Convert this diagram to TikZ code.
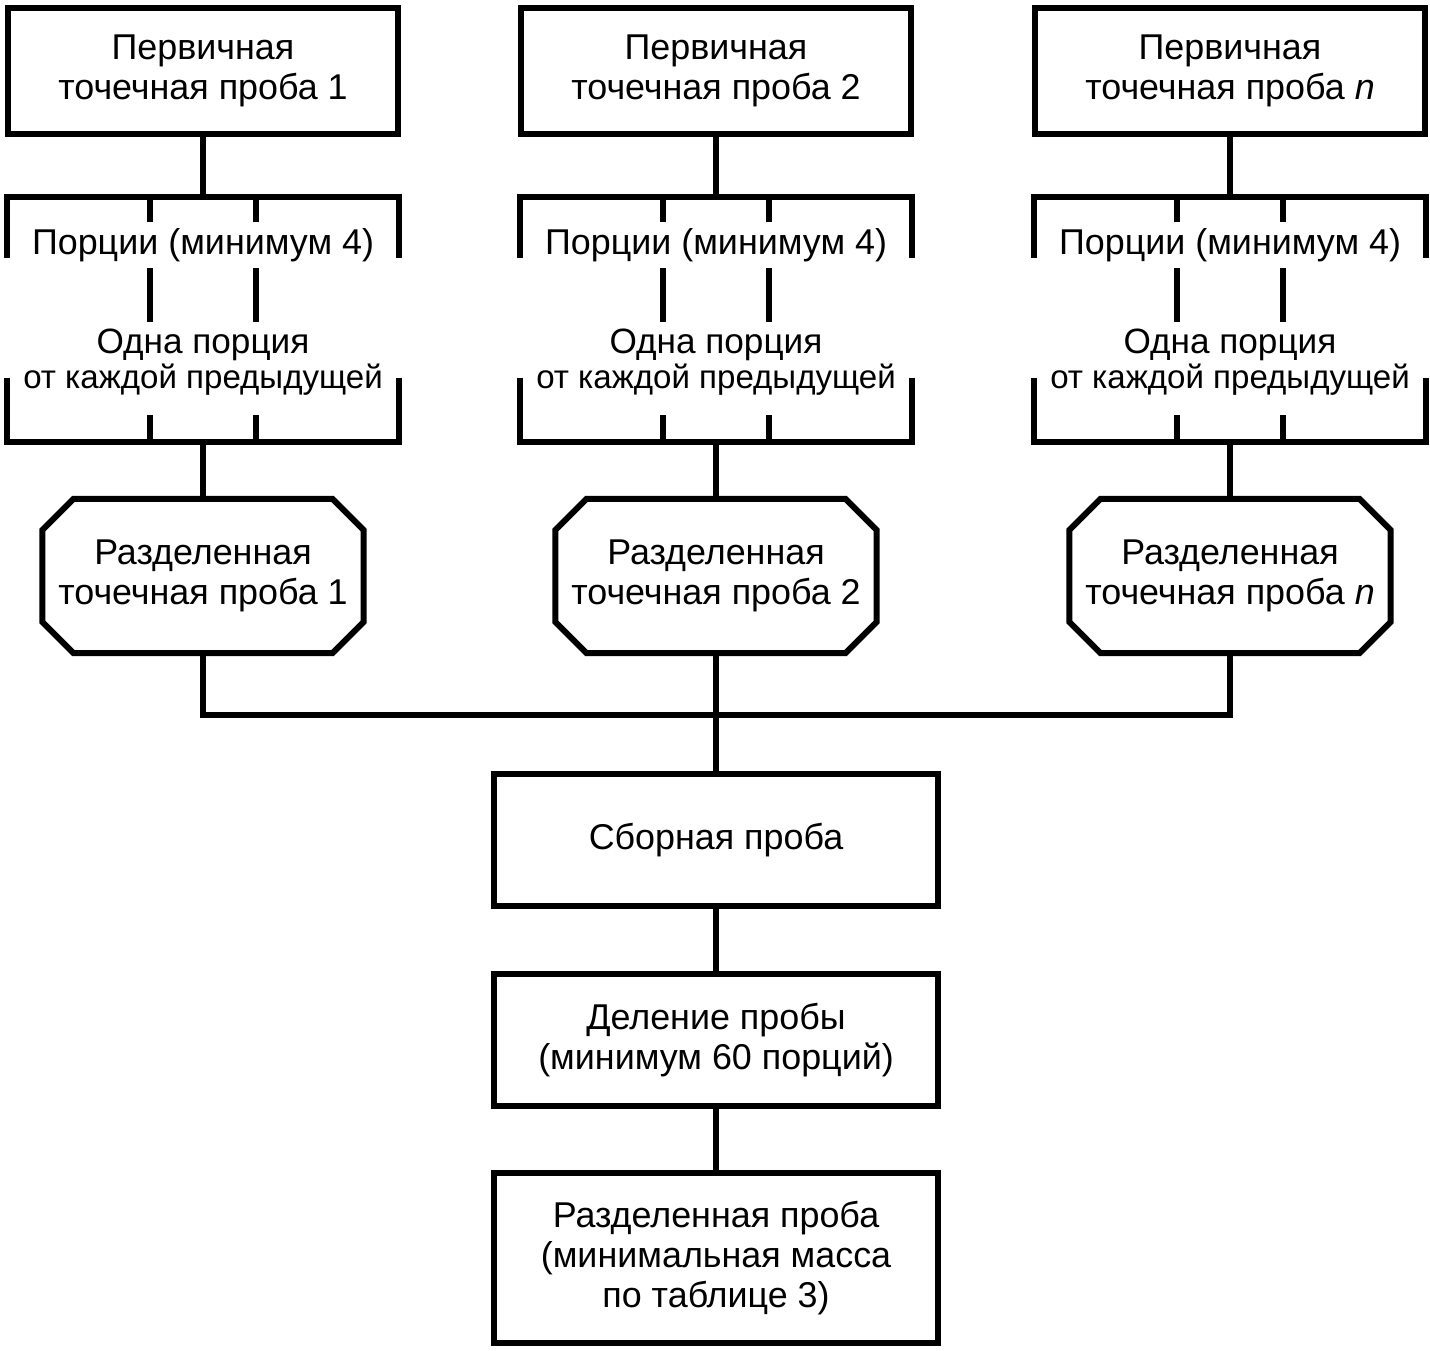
\documentclass[tikz,border=0pt]{standalone}
\usepackage{fontspec}
\setmainfont{Liberation Sans}

\begin{document}
\begin{tikzpicture}[x=0.01cm, y=-0.01cm, line width=1.7pt]
\tikzset{font=\fontsize{10.2}{11.4}\selectfont}
\tikzset{every node/.style={align=center, inner sep=0pt}}
\tikzset{box/.style={draw, rectangle, minimum width=3.9cm}}
\tikzset{wide box/.style={draw, rectangle, minimum width=4.44cm}}
\tikzset{cut box/.style={rectangle, minimum width=3.15cm, minimum height=1.48cm}}
\useasboundingbox (0,0) rectangle (1430,1350);

% three columns of primary samples
\foreach \c/\k/\lab in {203/1/1, 716/2/2, 1230/n/\textit{n}} {
  \node[box, minimum height=1.26cm] (prim\k) at (\c,71) {Первичная\\точечная проба \lab};
  \coordinate (top\k) at (\c,197);
  \coordinate (bot\k) at (\c,442);
  \node (parts\k) at (\c,245) {Порции (минимум 4)};
  \node[font=\fontsize{10}{10}\selectfont] (one\k) at (\c,362) {Одна порция\\\fontsize{9.4}{10}\selectfont от каждой предыдущей};
  \node[cut box] (split\k) at (\c,576) {Разделенная\\точечная проба \lab};
  \draw ([xshift=0.31cm]split\k.north west) -- ([xshift=-0.31cm]split\k.north east)
    -- ([yshift=-0.31cm]split\k.north east) -- ([yshift=0.31cm]split\k.south east)
    -- ([xshift=-0.31cm]split\k.south east) -- ([xshift=0.31cm]split\k.south west)
    -- ([yshift=0.31cm]split\k.south west) -- ([yshift=-0.31cm]split\k.north west) -- cycle;
  \draw (prim\k) -- (top\k);
  \draw (\c-196,258) -- (\c-196,197) -- (\c+196,197) -- (\c+196,258);
  \draw (\c-53,197) -- (\c-53,222) (\c+53,197) -- (\c+53,222);
  \draw (\c-53,268) -- (\c-53,322) (\c+53,268) -- (\c+53,322);
  \draw (\c-196,378) -- (\c-196,442) -- (\c+196,442) -- (\c+196,378);
  \draw (\c-53,415) -- (\c-53,442) (\c+53,415) -- (\c+53,442);
  \draw (bot\k) -- (split\k);
}

% joining and final steps
\coordinate (join) at (716,715);
\node[wide box, minimum height=1.32cm] (pool) at (716,840) {Сборная проба};
\node[wide box, minimum height=1.31cm] (divide) at (716,1040) {Деление пробы\\(минимум 60 порций)};
\node[wide box, minimum height=1.70cm] (final) at (716,1258) {Разделенная проба\\(минимальная масса\\по таблице 3)};
\draw (split1) |- (join) -| (splitn);
\draw (split2) -- (join) -- (pool);
\draw (pool) -- (divide);
\draw (divide) -- (final);
\end{tikzpicture}
\end{document}
